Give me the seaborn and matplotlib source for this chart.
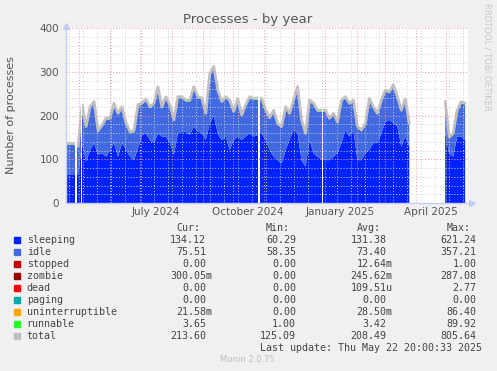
import numpy as np
import pandas as pd
import matplotlib
matplotlib.use("Agg")
import matplotlib.pyplot as plt
import matplotlib.dates as mdates
from matplotlib.ticker import MultipleLocator, NullFormatter
from matplotlib.patches import Rectangle
import seaborn as sns

# samples, roughly every 4 days from 2024-04-18 to 2025-05-20
total = [136, 136, 136, 130, 224, 175, 220, 232, 165, 178,
         194, 194, 228, 205, 220, 183, 163, 165, 225, 228,
         238, 220, 228, 266, 220, 243, 224, 190, 243, 243,
         235, 235, 266, 243, 240, 205, 296, 312, 258, 232,
         243, 235, 209, 239, 201, 224, 243, 239, 240, 239,
         213, 195, 212, 182, 175, 220, 205, 235, 266, 190,
         159, 235, 228, 212, 212, 212, 194, 205, 185, 235,
         243, 228, 235, 175, 167, 182, 239, 220, 205, 235,
         258, 254, 270, 243, 212, 238, 182, np.nan, np.nan, np.nan,
         np.nan, np.nan, np.nan, np.nan, np.nan, 232, 151, 159, 212, 232,
         228]
sleeping = [64, 64, 64, 64, 135, 95, 121, 137, 110, 114,
            106, 121, 137, 106, 137, 121, 106, 98, 125, 155,
            159, 144, 137, 159, 152, 152, 137, 110, 159, 163,
            163, 155, 175, 163, 160, 144, 182, 200, 159, 144,
            152, 121, 144, 152, 144, 152, 159, 152, 155, 159,
            144, 121, 106, 98, 90, 121, 144, 167, 159, 98,
            83, 144, 114, 106, 100, 98, 98, 106, 114, 137,
            167, 152, 167, 98, 98, 114, 121, 137, 137, 159,
            185, 190, 182, 175, 129, 152, 129, np.nan, np.nan, np.nan,
            np.nan, np.nan, np.nan, np.nan, np.nan, 159, 114, 106, 152, 152,
            144]
runnable_avg = 3.42

# short periods with no data (white gaps)
outages = [("2024-04-26 20:00", "2024-04-28 20:00"), ("2024-05-02 08:00", "2024-05-03 20:00"),
           ("2024-10-25 22:00", "2024-10-27 10:00"), ("2024-12-28 02:00", "2024-12-29 14:00")]

# legend table
names = ["sleeping", "idle", "stopped", "zombie", "dead", "paging",
         "uninterruptible", "runnable", "total"]
colors = ["#0022ff", "#4169e1", "#cc0000", "#990000", "#ff0000", "#00aaaa",
          "#ffa500", "#22ff22", "#c0c0c0"]
cur = ["134.12", "75.51", "0.00", "300.05m", "0.00", "0.00", "21.58m", "3.65", "213.60"]
mins = ["60.29", "58.35", "0.00", "0.00", "0.00", "0.00", "0.00", "1.00", "125.09"]
avgs = ["131.38", "73.40", "12.64m", "245.62m", "109.51u", "0.00", "28.50m", "3.42", "208.49"]
maxs = ["621.24", "357.21", "1.00", "287.08", "2.77", "0.00", "86.40", "89.92", "805.64"]

x_labels = ["July 2024", "October 2024", "January 2025", "April 2025"]
x_label_dates = ["2024-07-16", "2024-10-16", "2025-01-16", "2025-04-16"]

W, H = 497, 371
sns.set_style("white")
plt.rcParams["font.family"] = ["DejaVu Sans"]

fig = plt.figure(figsize=(W / 100, H / 100), dpi=100, facecolor="#f0f0f0")
ax = fig.add_axes([66 / W, 1 - 203 / H, (468 - 66) / W, (203 - 28) / H])
ax.set_facecolor("white")

sample_dates = pd.date_range("2024-04-18", "2025-05-20", periods=len(total))
d = pd.DataFrame({"total": total, "sleeping": sleeping}, index=sample_dates)
d["runnable"] = np.where(d["total"].notna(), runnable_avg, np.nan)

top_idle = d["total"] - d["runnable"]
ax.fill_between(d.index, 0, d["sleeping"], color=colors[0], lw=0, zorder=1)
ax.fill_between(d.index, d["sleeping"], top_idle, color=colors[1], lw=0, zorder=1)
ax.fill_between(d.index, top_idle, d["total"], color=colors[7], lw=0, zorder=1)

# total line, one unit per contiguous stretch so the big gap stays open
d["seg"] = d["total"].isna().cumsum()
dd = d.dropna(subset=["total"]).reset_index(names="date")
sns.lineplot(data=dd, x="date", y="total", units="seg", estimator=None,
             color=colors[8], lw=2.0, legend=False, ax=ax, zorder=2)

for a, b in outages:
    ax.axvspan(pd.Timestamp(a), pd.Timestamp(b), color="white", lw=0, zorder=2.2)

ax.set_xlim(pd.Timestamp("2024-04-17 20:00"), pd.Timestamp("2025-05-22 20:00"))
ax.set_ylim(0, 400)
ax.set_xlabel("")
ax.set_ylabel("")

ax.yaxis.set_major_locator(MultipleLocator(100))
ax.yaxis.set_minor_locator(MultipleLocator(20))
ax.xaxis.set_major_locator(mdates.MonthLocator())
ax.xaxis.set_major_formatter(NullFormatter())
ax.xaxis.set_minor_locator(mdates.WeekdayLocator(byweekday=mdates.SU, interval=2))
ax.xaxis.set_minor_formatter(NullFormatter())

ax.set_axisbelow(False)
ax.grid(True, which="minor", color="#cfcfcf", ls=(0, (1, 2)), lw=0.7)
ax.grid(True, which="major", color="#e89a9a", ls=(0, (1, 2)), lw=0.7)

ax.tick_params(axis="y", which="major", length=2, color="#e89a9a", labelsize=7.5,
               labelcolor="#555555", pad=3)
ax.tick_params(axis="y", which="minor", length=1, color="#cfcfcf")
ax.tick_params(axis="x", which="major", length=2, color="#e89a9a")
ax.tick_params(axis="x", which="minor", length=0)

for side in ["top", "right"]:
    ax.spines[side].set_visible(False)
for side in ["left", "bottom"]:
    ax.spines[side].set_color("#c4ccf6")
    ax.spines[side].set_linewidth(1)
ax.plot([0], [1.01], marker="^", ms=4, color="#c4ccf6", transform=ax.transAxes, clip_on=False)
ax.plot([1.01], [0], marker=">", ms=4, color="#c4ccf6", transform=ax.transAxes, clip_on=False)

for lab, dt in zip(x_labels, x_label_dates):
    ax.text(pd.Timestamp(dt), -9 / 175, lab, transform=ax.get_xaxis_transform(),
            ha="center", va="center", fontsize=7.5, color="#555555")

# title and side texts
fig.text(248 / W, 1 - 19 / H, "Processes - by year", ha="center", va="center",
         fontsize=9.5, color="#555555")
fig.text(11 / W, 1 - 115 / H, "Number of processes", rotation=90, ha="center",
         va="center", fontsize=8, color="#555555")
fig.text(487 / W, 1 - 57 / H, "RRDTOOL / TOBI OETIKER", rotation=270, ha="center",
         va="center", fontsize=6, color="#c8c8c8")

# legend table
fs = 7.2
cw = 0.602 * fs * 100 / 72
mono = dict(family="DejaVu Sans Mono", fontsize=fs, color="#444444", va="center")


def put(xpx, ypx, s, ha="left"):
    fig.text(xpx / W, 1 - ypx / H, s, ha=ha, **mono)


col_right = [206, 296, 386.5, 476.5]
headers = ["Cur:", "Min:", "Avg:", "Max:"]
for xr, h in zip(col_right, headers):
    put(xr - cw, 228, h, ha="right")

for i, name in enumerate(names):
    y = 240 + 12 * i
    fig.patches.append(Rectangle((14 / W, 1 - (y + 3) / H), 6 / W, 6 / H,
                                 transform=fig.transFigure, color=colors[i]))
    put(26.7, y, name)
    for xr, col in zip(col_right, [cur, mins, avgs, maxs]):
        s = col[i]
        num = s.rstrip("mu")
        put(xr - len(num) * cw, y, s)

put(482, 348, "Last update: Thu May 22 20:00:33 2025", ha="right")
fig.text(247 / W, 1 - 360 / H, "Munin 2.0.75", ha="center", va="center",
         fontsize=6, color="#c0c0c0")

fig.savefig("out.png", dpi=100, facecolor=fig.get_facecolor())
